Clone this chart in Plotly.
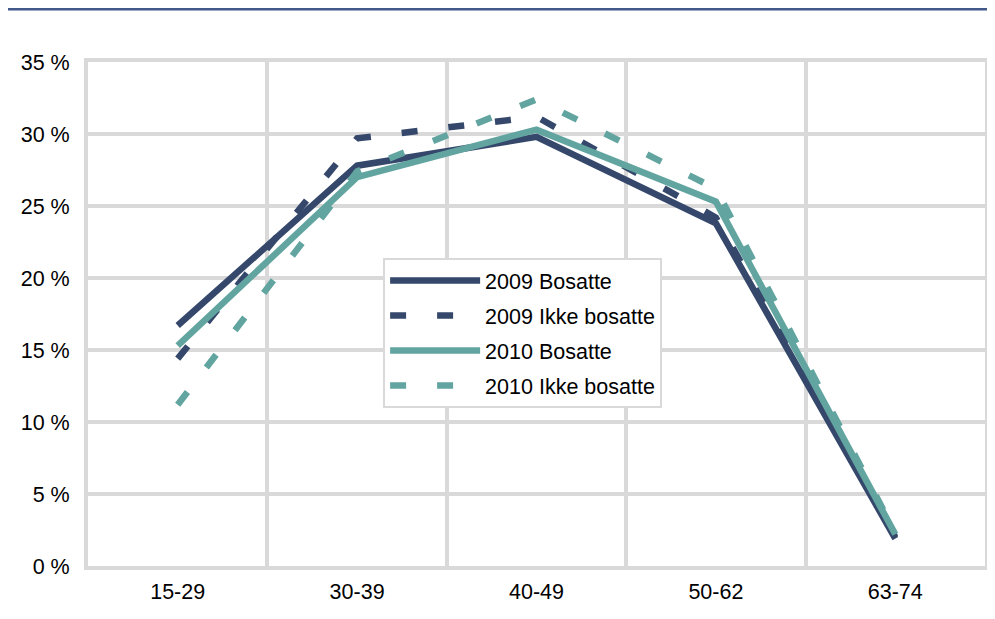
import plotly.graph_objects as go

categories = ["15-29", "30-39", "40-49", "50-62", "63-74"]
bosatte_2009 = [16.7, 27.8, 29.8, 23.8, 1.9]
ikke_bosatte_2009 = [14.4, 29.7, 31.2, 24.2, 2.0]
bosatte_2010 = [15.3, 27.0, 30.3, 25.3, 2.2]
ikke_bosatte_2010 = [11.2, 27.4, 32.4, 26.2, 2.3]
series_names = ["2009 Bosatte", "2009 Ikke bosatte", "2010 Bosatte", "2010 Ikke bosatte"]
y_ticks = [0, 5, 10, 15, 20, 25, 30, 35]

NAVY = "#35486b"
TEAL = "#62a5a0"
GRID = "#d9d9d9"
FONT = "Liberation Sans, Arial, sans-serif"

series = [
    (bosatte_2009, NAVY, "solid"),
    (ikke_bosatte_2009, NAVY, "16px,31px"),
    (bosatte_2010, TEAL, "solid"),
    (ikke_bosatte_2010, TEAL, "16px,31px"),
]

fig = go.Figure()
for i, (vals, col, dash) in enumerate(series):
    fig.add_trace(go.Scatter(
        x=categories, y=vals, mode="lines", name=series_names[i],
        legendgroup=f"g{i}",
        line=dict(color=col, width=6.5, dash=dash),
    ))

fig.update_layout(
    width=987, height=611,
    margin=dict(l=80, r=6, t=54, b=53),
    paper_bgcolor="white", plot_bgcolor="white",
    font=dict(family=FONT, size=20, color="#000000"),
    showlegend=True,
    legend=dict(
        x=0.329, y=0.611, xanchor="left", yanchor="top",
        bgcolor="white", bordercolor=GRID, borderwidth=2,
        font=dict(family=FONT, size=21.5, color="#000000"),
        tracegroupgap=4, traceorder="grouped", itemwidth=90,
    ),
    xaxis=dict(
        type="category", tickson="boundaries",
        showgrid=True, gridcolor=GRID, gridwidth=4,
        showline=True, linecolor=GRID, linewidth=4, mirror=True,
        zeroline=False, ticks="",
        ticklabelstandoff=3,
        tickfont=dict(family=FONT, size=21.5, color="#000000"),
        range=[-0.5, 4.5],
    ),
    yaxis=dict(
        range=[0, 35], tickvals=y_ticks,
        ticktext=[f"{v} %" for v in y_ticks],
        showgrid=True, gridcolor=GRID, gridwidth=4,
        showline=True, linecolor=GRID, linewidth=4, mirror=True,
        zeroline=False, ticks="",
        ticklabelstandoff=10,
        tickfont=dict(family=FONT, size=21.5, color="#000000"),
    ),
    shapes=[dict(type="line", xref="paper", yref="paper",
                 x0=-0.092, x1=1.02, y0=1.105, y1=1.105,
                 line=dict(color="#41598a", width=3))],
)

fig.write_html("out.html")
